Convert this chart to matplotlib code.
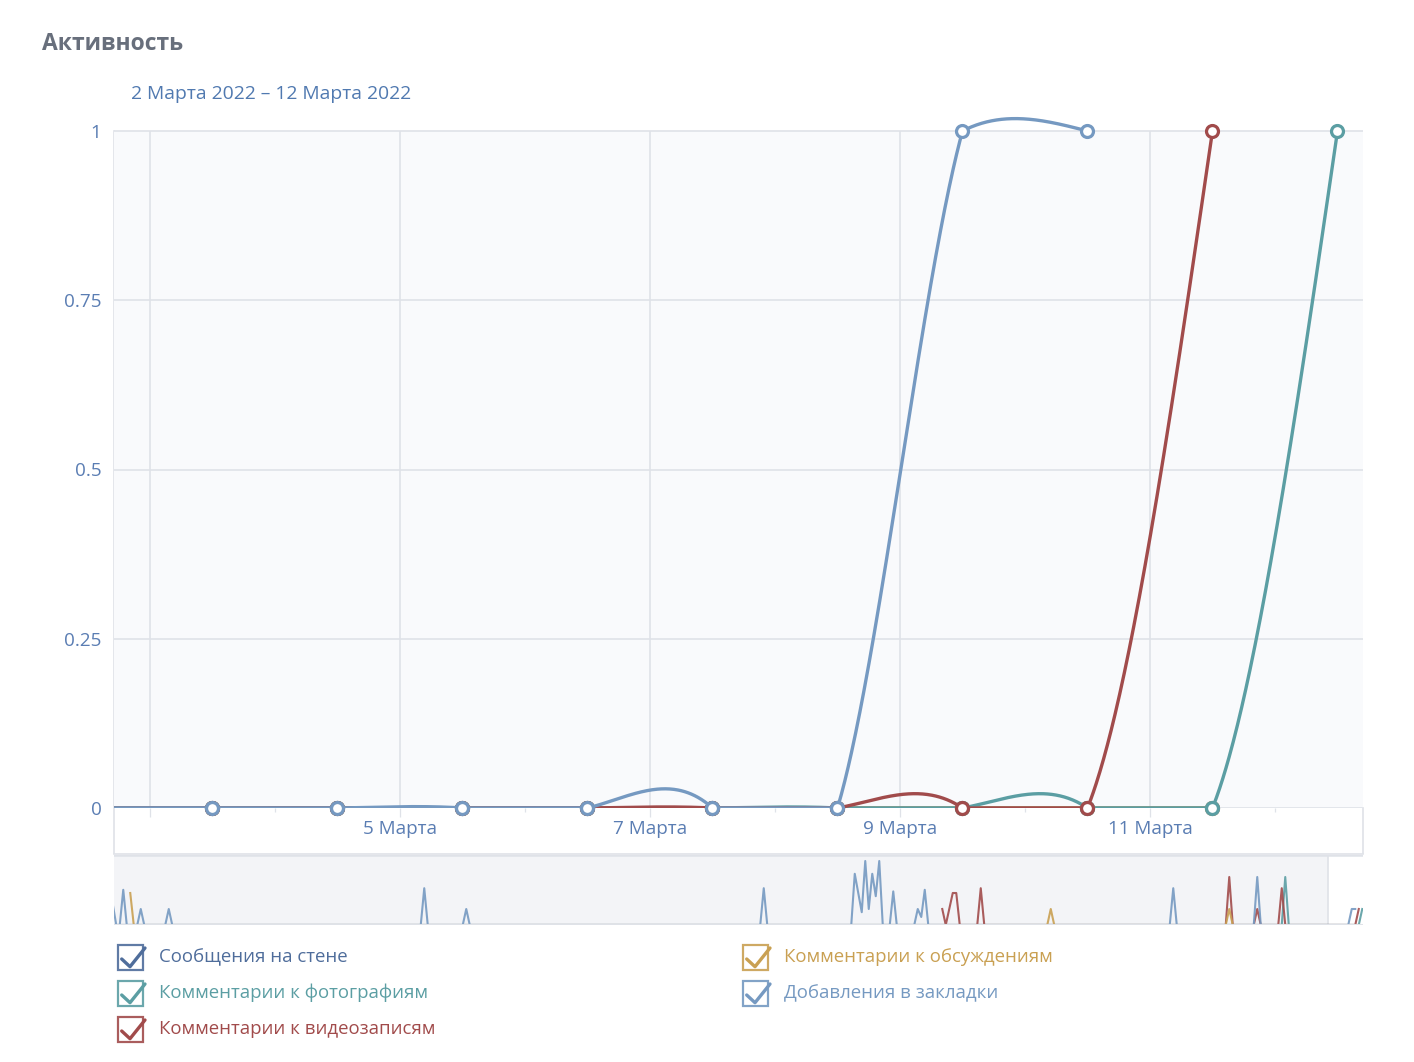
import numpy as np
import matplotlib.pyplot as plt
from matplotlib.patches import Rectangle

plt.rcParams['font.family'] = ['Open Sans', 'DejaVu Sans']

# ---- main window: 2..12 March 2022, one value per day (drawn at midday) ----
days_wall = [2, 3, 4, 5, 6, 7, 8, 9, 10, 11]
wall = [0, 0, 0, 0, 0, 0, 0, 0, 0, 0]
days_photo = [2, 3, 4, 5, 6, 7, 8, 9, 10, 11, 12]
photo = [0, 0, 0, 0, 0, 0, 0, 0, 0, 0, 1]
days_video = [2, 3, 4, 5, 6, 7, 8, 9, 10, 11]
video = [0, 0, 0, 0, 0, 0, 0, 0, 0, 1]
days_discuss = [2, 3, 4, 5, 6, 7, 8, 9, 10, 11]
discuss = [0, 0, 0, 0, 0, 0, 0, 0, 0, 0]
days_bookmarks = [2, 3, 4, 5, 6, 7, 8, 9, 10]
bookmarks = [0, 0, 0, 0, 0, 0, 0, 1, 1]

# ---- navigator: days relative to 1 March 2022, non-zero days only ----
nav_wall_range = (-345, 11)
nav_wall_days, nav_wall_vals = [], []
nav_photo_range = (-345, 12)
nav_photo_days = [-10, 12]
nav_photo_vals = [3, 1]
nav_video_range = (-108, 11)
nav_video_days = [-108, -106, -105, -104, -97, -26, -18, -11, 11]
nav_video_vals = [1, 1, 2, 2, 2.3, 3, 1, 2.3, 1]
nav_discuss_range = (-340, 11)
nav_discuss_days = [-340, -77, -26]
nav_discuss_vals = [2, 1, 1]
nav_bookmarks_range = (-345, 10)
nav_bookmarks_days = [-345, -342, -337, -329, -256, -244, -159, -133, -132, -131,
                      -130, -129, -128, -127, -126, -122, -115, -114, -113, -42,
                      -18, 9, 10]
nav_bookmarks_vals = [1.3, 2.2, 1, 1, 2.3, 1, 2.3, 3.2, 2, 0.8,
                      4, 1, 3.2, 1.8, 4, 2.1, 1, 0.5, 2.2, 2.3,
                      3, 1, 1]

names = ['Сообщения на стене', 'Комментарии к фотографиям', 'Комментарии к видеозаписям',
         'Комментарии к обсуждениям', 'Добавления в закладки']
colors = ['#4f6d9b', '#5b9ea3', '#a14b4b', '#c9a052', '#7599c1']

W, H = 1414, 1062
fig = plt.figure(figsize=(W / 100, H / 100), dpi=100)


def fx(px):
    return px / W


def fy(py):
    return 1 - py / H


def natural_spline(x, y, xs):
    x = np.asarray(x, float)
    y = np.asarray(y, float)
    n = len(x)
    h = np.diff(x)
    A = np.zeros((n, n))
    b = np.zeros(n)
    A[0, 0] = 1
    A[-1, -1] = 1
    for i in range(1, n - 1):
        A[i, i - 1] = h[i - 1]
        A[i, i] = 2 * (h[i - 1] + h[i])
        A[i, i + 1] = h[i]
        b[i] = 6 * ((y[i + 1] - y[i]) / h[i] - (y[i] - y[i - 1]) / h[i - 1])
    M = np.linalg.solve(A, b)
    idx = np.clip(np.searchsorted(x, xs) - 1, 0, n - 2)
    x0, x1 = x[idx], x[idx + 1]
    hh = x1 - x0
    return (M[idx] * (x1 - xs) ** 3 / (6 * hh) + M[idx + 1] * (xs - x0) ** 3 / (6 * hh)
            + (y[idx] / hh - M[idx] * hh / 6) * (x1 - xs)
            + (y[idx + 1] / hh - M[idx + 1] * hh / 6) * (xs - x0))


# overlay in pixel coordinates for decorations
deco = fig.add_axes([0, 0, 1, 1])
deco.set_xlim(0, W)
deco.set_ylim(H, 0)
deco.axis('off')

grid_c = '#dfe2e8'
tick_c = '#5a7db3'

deco.text(42, 44, 'Активность', fontsize=16.5, fontweight='bold', color='#686f7c', va='center')
deco.text(131, 94, '2 Марта 2022 – 12 Марта 2022', fontsize=13.9, color='#5079b0', va='center')

# x-axis band under the plot
deco.add_patch(Rectangle((114, 808), 1249, 45, facecolor='white', edgecolor='none'))
deco.plot([114, 114], [131, 853], color=grid_c, lw=1.2)
deco.plot([1363, 1363], [808, 853], color=grid_c, lw=1.2)
deco.plot([114, 1363], [853.5, 853.5], color=grid_c, lw=1.2)

# ---- main plot ----
x0_lim, x1_lim = 2.712, 12.704
top_px = 100
ax = fig.add_axes([fx(114), fy(808), fx(1249), (808 - top_px) / H])
ax.set_xlim(x0_lim, x1_lim)
ax.set_ylim(0, (808 - top_px) / 677)
ax.patch.set_visible(False)
for s in ax.spines.values():
    s.set_visible(False)
ax.add_patch(Rectangle((x0_lim, 0), x1_lim - x0_lim, 1, facecolor='#f9fafc',
                       edgecolor='none', zorder=0))
for yv in [0.25, 0.5, 0.75, 1]:
    ax.plot([x0_lim, x1_lim], [yv, yv], color=grid_c, lw=1.2, zorder=1)
ax.vlines([3, 5, 7, 9, 11], 0, 1, color=grid_c, lw=1.2, zorder=1)
ax.plot([x0_lim, x1_lim], [0, 0], color=grid_c, lw=1.2, zorder=1)

ax.set_yticks([0, 0.25, 0.5, 0.75, 1])
ax.set_yticklabels(['0', '0.25', '0.5', '0.75', '1'])
ax.set_xticks([3, 5, 7, 9, 11])
ax.set_xticklabels(['', '5 Марта', '7 Марта', '9 Марта', '11 Марта'])
ax.set_xticks([4, 6, 8, 10, 12], minor=True)
ax.tick_params(axis='y', length=0, pad=9, labelsize=13.6, labelcolor=tick_c)
ax.tick_params(axis='x', which='major', length=6.5, width=0.9, color=grid_c, pad=2.5,
               labelsize=13.6, labelcolor=tick_c)
ax.tick_params(axis='x', which='minor', length=3, width=0.9, color=grid_c)

series = [(days_wall, wall), (days_photo, photo), (days_video, video),
          (days_discuss, discuss), (days_bookmarks, bookmarks)]
order = [0, 3, 1, 2, 4]
for k, i in enumerate(order):
    d, v = series[i]
    x = np.array(d) + 0.5
    xs = np.linspace(x[0], x[-1], 1200)
    ys = natural_spline(x, v, xs)
    # the original renderer flattens the spline overshoot above the series maximum
    # and cuts it off at the bottom of the plot
    top = max(v)
    ys = np.where(ys > top, top + (ys - top) * 0.14, ys)
    ys = np.maximum(ys, 0)
    ax.plot(xs, ys, color=colors[i], lw=2.4, zorder=3 + 2 * k, solid_capstyle='round')
    inside = (x >= x0_lim) & (x <= x1_lim)
    ax.plot(x[inside], np.array(v)[inside], 'o', ms=8.6, mew=2.3, mfc='white',
            mec=colors[i], zorder=4 + 2 * k, clip_on=False)

# ---- navigator ----
nav_x0, nav_x1 = -344.145, 12.712
nav = fig.add_axes([fx(114), fy(925), fx(1249), 70 / H])
nav.set_xlim(nav_x0, nav_x1)
nav.set_ylim(0, 70 / 16)
nav.set_facecolor('white')
for s in nav.spines.values():
    s.set_visible(False)
nav.set_xticks([])
nav.set_yticks([])
nav.add_patch(Rectangle((nav_x0, 0), x0_lim - nav_x0, 70 / 16,
                        facecolor='#f3f4f7', edgecolor='none', zorder=0))
nav.axvline(x0_lim, color=grid_c, lw=1.2, zorder=1)
nav.axhline(70 / 16, color=grid_c, lw=1.8, zorder=1)
nav.axhline(0, color=grid_c, lw=2.2, zorder=20)

nav_series = [(nav_wall_range, nav_wall_days, nav_wall_vals),
              (nav_photo_range, nav_photo_days, nav_photo_vals),
              (nav_video_range, nav_video_days, nav_video_vals),
              (nav_discuss_range, nav_discuss_days, nav_discuss_vals),
              (nav_bookmarks_range, nav_bookmarks_days, nav_bookmarks_vals)]
for i, (rng, dd, vv) in enumerate(nav_series):
    alld = np.arange(rng[0], rng[1] + 1)
    vals = np.zeros(len(alld))
    for d, v in zip(dd, vv):
        vals[d - rng[0]] = v
    nav.plot(alld + 0.5, vals, color=colors[i], lw=1.5, alpha=0.9, zorder=2 + i)

# ---- legend with checkboxes ----
legend_pos = [(118, 945), (118, 981), (118, 1017), (743, 945), (743, 981)]
for i, (bx, by) in enumerate(legend_pos):
    deco.add_patch(Rectangle((bx, by), 25, 25, facecolor='white', edgecolor=colors[i],
                             lw=1.6, alpha=0.9))
    deco.plot([bx + 3.7, bx + 12, bx + 27], [by + 14, by + 21.7, by + 3],
              color=colors[i], lw=2.4, solid_capstyle='round', solid_joinstyle='round')
    deco.text(bx + 41, by + 12, names[i], fontsize=13.4, color=colors[i], va='center')

fig.savefig('out.png', dpi=100)
